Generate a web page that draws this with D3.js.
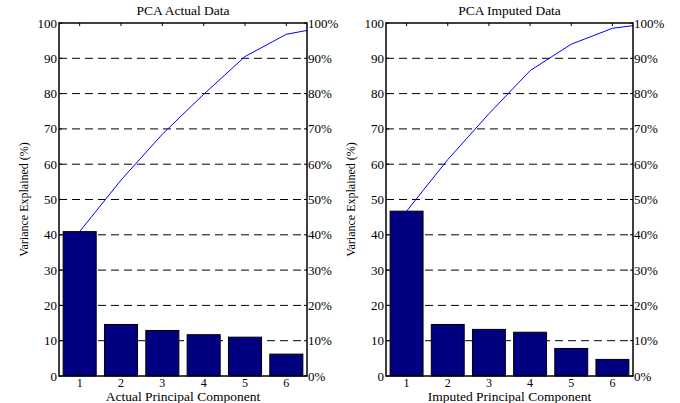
<!DOCTYPE html>
<html lang="en">
<head>
<meta charset="utf-8">
<title>PCA pareto</title>
<script src="https://d3js.org/d3.v7.min.js"></script>
<style>
  body { margin: 0; background: #fff; }
  text { font-family: "Liberation Serif", "Times New Roman", serif; fill: #000; }
</style>
</head>
<body>
<div id="canvas"></div>
<script>
// component numbers on the x axis
var components = [1, 2, 3, 4, 5, 6];
// variance explained per component (%)
var actualVar = [40.9, 14.6, 12.9, 11.7, 11.0, 6.2];
var imputedVar = [46.7, 14.6, 13.2, 12.4, 7.8, 4.7];
// cumulative line, 7th point is the remaining component (clipped at 6.5)
var actualCum = [40.9, 55.5, 68.5, 79.8, 90.5, 96.8, 99];
var imputedCum = [46.7, 61.3, 74.3, 86.5, 94.0, 98.5, 100];
var yTicks = [0, 10, 20, 30, 40, 50, 60, 70, 80, 90, 100];
var gridTicks = [10, 20, 30, 40, 50, 60, 70, 80, 90];

var W = 680, H = 403;
var svg = d3.select("#canvas").append("svg")
  .attr("width", W).attr("height", H);

function panel(opts) {
  var x0 = opts.left, x1 = opts.right, top = 23, bottom = 376;
  var x = d3.scaleLinear().domain([0.5, 6.5]).range([x0, x1]);
  var y = d3.scaleLinear().domain([0, 100]).range([bottom, top]);
  var step = x(2) - x(1), bw = step * 0.8;
  var g = svg.append("g");

  g.append("clipPath").attr("id", opts.id + "-clip")
    .append("rect").attr("x", x0).attr("y", top)
    .attr("width", x1 - x0).attr("height", bottom - top);

  // dashed grid
  g.selectAll(".grid").data(gridTicks).join("line")
    .attr("x1", x0).attr("x2", x1)
    .attr("y1", d => y(d)).attr("y2", d => y(d))
    .attr("stroke", "#000").attr("stroke-width", 1)
    .attr("stroke-dasharray", "8,5");

  // bars
  g.selectAll(".bar").data(opts.values).join("rect")
    .attr("x", (d, i) => x(components[i]) - bw / 2)
    .attr("width", bw)
    .attr("y", d => y(d))
    .attr("height", d => y(0) - y(d))
    .attr("fill", "#000080")
    .attr("stroke", "#000").attr("stroke-width", 1);

  // cumulative line
  var line = d3.line().x((d, i) => x(i + 1)).y(d => y(d));
  g.append("path").datum(opts.cum)
    .attr("d", line)
    .attr("fill", "none").attr("stroke", "#0000ff").attr("stroke-width", 1)
    .attr("clip-path", "url(#" + opts.id + "-clip)");

  // frame
  g.append("rect").attr("x", x0).attr("y", top)
    .attr("width", x1 - x0).attr("height", bottom - top)
    .attr("fill", "none").attr("stroke", "#000").attr("stroke-width", 1.5);

  // inward ticks
  g.selectAll(".lt").data(yTicks).join("line")
    .attr("x1", x0).attr("x2", x0 + 3)
    .attr("y1", d => y(d)).attr("y2", d => y(d)).attr("stroke", "#000");
  g.selectAll(".rt").data(yTicks).join("line")
    .attr("x1", x1 - 3).attr("x2", x1)
    .attr("y1", d => y(d)).attr("y2", d => y(d)).attr("stroke", "#000");
  g.selectAll(".tt").data(components).join("line")
    .attr("x1", d => x(d)).attr("x2", d => x(d))
    .attr("y1", top).attr("y2", top + 3).attr("stroke", "#000");
  g.selectAll(".bt").data(components).join("line")
    .attr("x1", d => x(d)).attr("x2", d => x(d))
    .attr("y1", bottom).attr("y2", bottom - 3).attr("stroke", "#000");

  // tick labels
  g.selectAll(".ll").data(yTicks).join("text")
    .attr("x", x0 - 2).attr("y", d => y(d) + 4.5)
    .attr("text-anchor", "end").attr("font-size", 13)
    .text(d => d);
  g.selectAll(".rl").data(yTicks).join("text")
    .attr("x", x1 + 1).attr("y", d => y(d) + 4.5)
    .attr("text-anchor", "start").attr("font-size", 13)
    .text(d => d + "%");
  g.selectAll(".bl").data(components).join("text")
    .attr("x", d => x(d)).attr("y", bottom + 11)
    .attr("text-anchor", "middle").attr("font-size", 12)
    .text(d => d);

  // titles
  g.append("text").attr("x", (x0 + x1) / 2).attr("y", 15)
    .attr("text-anchor", "middle").attr("font-size", 13.5)
    .text(opts.title);
  g.append("text").attr("x", (x0 + x1) / 2).attr("y", 401)
    .attr("text-anchor", "middle").attr("font-size", 13.5)
    .text(opts.xlabel);
  g.append("text")
    .attr("transform", "translate(" + opts.ylabX + "," + (top + bottom) / 2 + ") rotate(-90)")
    .attr("text-anchor", "middle").attr("font-size", 12)
    .text("Variance Explained (%)");
}

panel({ id: "a", left: 59, right: 307, values: actualVar, cum: actualCum,
  title: "PCA Actual Data", xlabel: "Actual Principal Component", ylabX: 28 });
panel({ id: "b", left: 386, right: 633, values: imputedVar, cum: imputedCum,
  title: "PCA Imputed Data", xlabel: "Imputed Principal Component", ylabX: 355 });
</script>
</body>
</html>
